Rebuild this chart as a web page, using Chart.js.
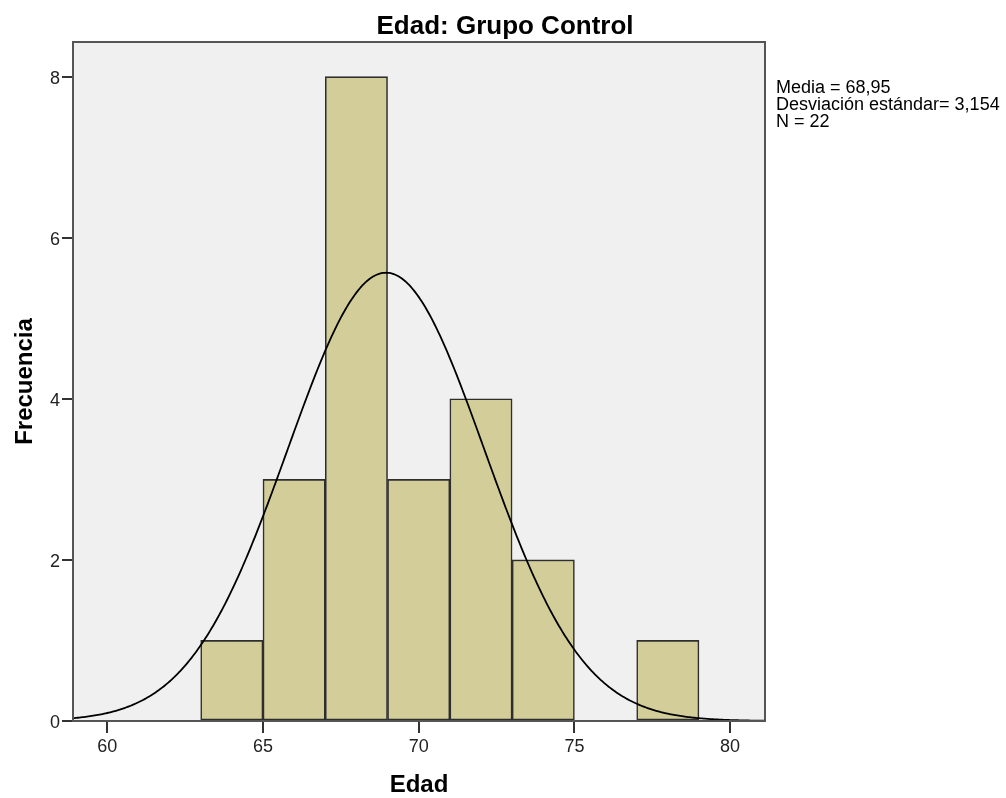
<!DOCTYPE html>
<html>
<head>
<meta charset="utf-8">
<title>Edad: Grupo Control</title>
<script src="https://cdn.jsdelivr.net/npm/chart.js@4"></script>
<style>
  html, body { margin: 0; padding: 0; background: #ffffff; }
  #wrap { width: 1006px; height: 798px; }
</style>
</head>
<body>
<div id="wrap"><canvas id="hist" width="1006" height="798"></canvas></div>
<script>
// Histogram bins (lower edge of each 2-year interval) and counts
const binStarts = [63, 65, 67, 69, 71, 73, 75, 77];
const frecuencias = [1, 3, 8, 3, 4, 2, 0, 1];
const binWidth = 2;

// Axis ticks and limits
const xTicks = [60, 65, 70, 75, 80];
const yTicks = [0, 2, 4, 6, 8];
const xRange = [58.9, 81.12];
const yRange = [0, 8.43];

// Summary statistics shown beside the plot
const media = 68.95;
const desviacion = 3.154;
const n = 22;
const statsLines = ['Media = 68,95', 'Desviación estándar= 3,154', 'N = 22'];

const FONT = '"Liberation Sans", Arial, Helvetica, sans-serif';

// Bars centred on each interval
const barData = binStarts.map((s, i) => ({ x: s + binWidth / 2, y: frecuencias[i] }));

// Fitted normal curve scaled to counts: N * binWidth * pdf(x; media, desviacion)
const curveData = [];
for (let x = xRange[0]; x <= xRange[1] + 1e-9; x += 0.05) {
  const z = (x - media) / desviacion;
  const pdf = Math.exp(-0.5 * z * z) / (desviacion * Math.sqrt(2 * Math.PI));
  curveData.push({ x: x, y: n * binWidth * pdf });
}

const plotFrame = {
  id: 'plotFrame',
  beforeDatasetsDraw(chart) {
    const { ctx, chartArea: a } = chart;
    ctx.save();
    ctx.fillStyle = '#f0f0f0';
    ctx.fillRect(a.left, a.top, a.right - a.left, a.bottom - a.top);
    ctx.restore();
  },
  afterDatasetsDraw(chart) {
    const { ctx, chartArea: a } = chart;
    ctx.save();
    ctx.strokeStyle = '#555555';
    ctx.lineWidth = 2;
    ctx.strokeRect(a.left, a.top, a.right - a.left, a.bottom - a.top);
    ctx.restore();
  }
};

const labelsPlugin = {
  id: 'labelsPlugin',
  afterDraw(chart) {
    const { ctx, chartArea: a } = chart;
    ctx.save();
    ctx.fillStyle = '#000000';

    // Chart title
    ctx.font = 'bold 26px ' + FONT;
    ctx.textAlign = 'center';
    ctx.textBaseline = 'alphabetic';
    ctx.fillText('Edad: Grupo Control', 505, 34);

    // X axis title
    ctx.font = 'bold 24px ' + FONT;
    ctx.fillText('Edad', (a.left + a.right) / 2, 792);

    // Y axis title
    ctx.save();
    ctx.translate(32, (a.top + a.bottom) / 2);
    ctx.rotate(-Math.PI / 2);
    ctx.fillText('Frecuencia', 0, 0);
    ctx.restore();

    // Summary statistics
    ctx.font = '18px ' + FONT;
    ctx.textAlign = 'left';
    statsLines.forEach((t, i) => ctx.fillText(t, a.right + 11, 93 + i * 17));
    ctx.restore();
  }
};

new Chart(document.getElementById('hist'), {
  type: 'bar',
  data: {
    datasets: [
      {
        type: 'line',
        data: curveData,
        borderColor: '#000000',
        borderWidth: 1.8,
        pointRadius: 0,
        tension: 0,
        fill: false,
        order: 0
      },
      {
        type: 'bar',
        data: barData,
        backgroundColor: '#d3ce99',
        borderColor: '#2e2e2e',
        borderWidth: 1.6,
        borderSkipped: false,
        barPercentage: 1,
        categoryPercentage: 1,
        order: 1
      }
    ]
  },
  options: {
    responsive: false,
    animation: false,
    layout: { padding: { left: 0, top: 42, right: 241, bottom: 0 } },
    plugins: { legend: { display: false }, tooltip: { enabled: false }, title: { display: false } },
    scales: {
      x: {
        type: 'linear',
        min: xRange[0],
        max: xRange[1],
        offset: false,
        afterBuildTicks(scale) { scale.ticks = xTicks.map(v => ({ value: v })); },
        afterFit(scale) { scale.height = 77; },
        border: { display: false },
        grid: { offset: false, drawOnChartArea: false, drawTicks: true, tickLength: 12, color: '#333333', lineWidth: 2 },
        ticks: { color: '#222222', font: { family: FONT, size: 18 }, padding: 3, maxRotation: 0, autoSkip: false }
      },
      y: {
        type: 'linear',
        min: yRange[0],
        max: yRange[1],
        afterBuildTicks(scale) { scale.ticks = yTicks.map(v => ({ value: v })); },
        afterFit(scale) { scale.width = 73; },
        border: { display: false },
        grid: { drawOnChartArea: false, drawTicks: true, tickLength: 11, color: '#333333', lineWidth: 2 },
        ticks: { color: '#222222', font: { family: FONT, size: 18 }, padding: 2, labelOffset: 2 }
      }
    }
  },
  plugins: [plotFrame, labelsPlugin]
});
</script>
</body>
</html>
